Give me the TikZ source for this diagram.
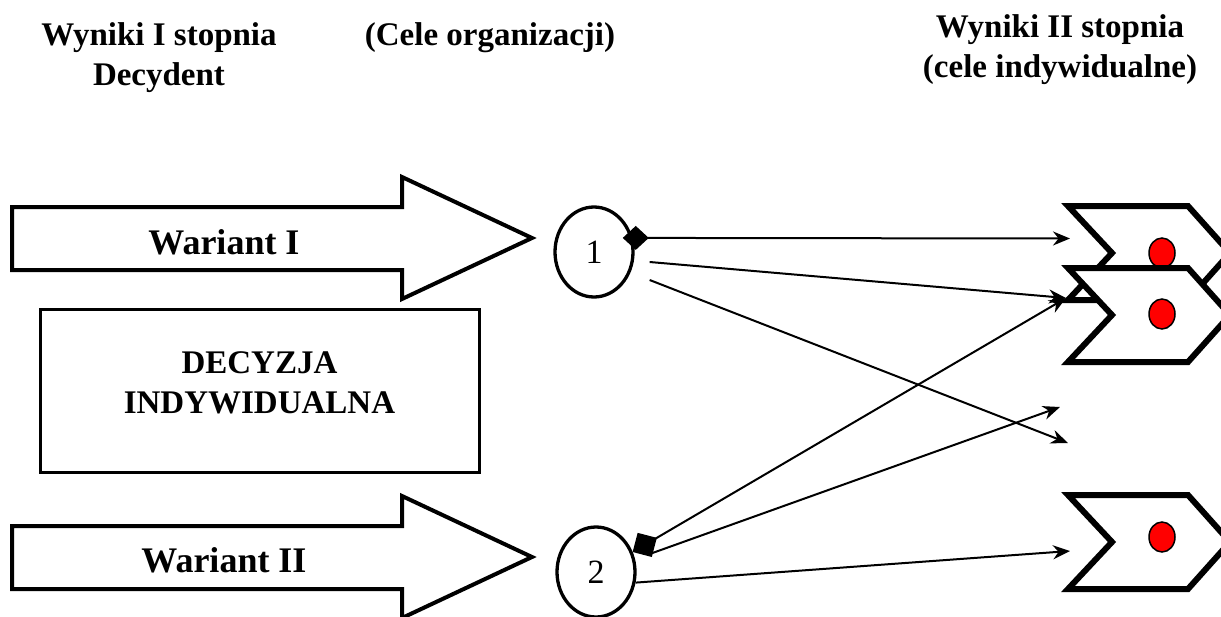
\documentclass[tikz,border=0pt]{standalone}
\usepackage{fontspec}
\setmainfont{Liberation Serif}
\usetikzlibrary{arrows.meta,shapes.geometric}

\begin{document}
\begin{tikzpicture}[>={Stealth[length=17pt,width=14pt]},x=1pt,y=-1pt,
	lbl/.style={font=\bfseries\fontsize{33}{40}\selectfont,align=center,inner sep=0pt},
	wariant/.style={line width=4pt,fill=white,line join=miter},
	cel/.style={draw,ellipse,line width=3.3pt,minimum width=78pt,minimum height=90pt,inner sep=0pt,font=\fontsize{34}{34}\selectfont},
	chevron/.style={line width=6pt,fill=white,line join=miter},
	kropka/.style={draw,fill=red,line width=1.5pt},
	strzalka/.style={line width=2pt,->}]
	%\draw[gray,step=50] (0,0) grid (1221,616);
	\useasboundingbox (0,0) rectangle (1221,616);
	\clip (0,0) rectangle (1221,616);

	% naglowki
	\node[lbl,anchor=north] (wyn1) at (159,22) {Wyniki I stopnia\\Decydent};
	\node[lbl,anchor=north] (cele) at (490,22) {(Cele organizacji)};
	\node[lbl,anchor=north] (wyn2) at (1060,14) {Wyniki II stopnia\\(cele indywidualne)};

	% warianty
	\draw[wariant] (12,207) -- (402,207) -- (402,177) -- (532,238) -- (402,299) -- (402,270) -- (12,270) -- cycle;
	\draw[wariant] (12,526) -- (402,526) -- (402,496) -- (532,557) -- (402,618) -- (402,589) -- (12,589) -- cycle;
	\node[lbl,font=\bfseries\fontsize{36}{40}\selectfont] (war1) at (224,242) {Wariant I};
	\node[lbl,font=\bfseries\fontsize{36}{40}\selectfont] (war2) at (224,560) {Wariant II};

	\node[draw,line width=3pt,minimum width=439pt,minimum height=163pt,lbl,text depth=16pt] (decyzja) at (259.5,390.5) {DECYZJA\\INDYWIDUALNA};

	% cele organizacji
	\node[cel] (c1) at (594,252) {1};
	\node[cel] (c2) at (596,572) {2};

	% cele indywidualne
	\foreach \y/\d in {253/253, 315/314, 542/537} {
		\draw[chevron] (1068,\y-47) -- (1188,\y-47) -- (1230,\y) -- (1188,\y+47) -- (1068,\y+47) -- (1112,\y) -- cycle;
		\draw[kropka] (1162,\d) ellipse [x radius=13, y radius=15];
	}

	\coordinate (k1) at (1070,238.5);
	\coordinate (k2) at (1066,298);
	\coordinate (k3) at (1068,443);
	\coordinate (k4) at (1060,407);
	\coordinate (k5) at (1070,551);

	\draw[strzalka,{Diamond[length=26pt,width=24pt]}->] ([xshift=-10pt]c1.20) -- (k1);
	\draw[strzalka] ([xshift=15pt,yshift=-10pt]c1.east) -- (k2);
	\draw[strzalka] ([xshift=15pt,yshift=-28pt]c1.east) -- (k3);
	\draw[strzalka,{Diamond[length=28pt,width=28pt]}->] ([xshift=-4pt,yshift=20pt]c2.east) -- (k2);
	\draw[strzalka] ([xshift=13pt,yshift=18pt]c2.east) -- (k4);
	\draw[strzalka] (c2.-15) -- (k5);

\end{tikzpicture}
\end{document}
